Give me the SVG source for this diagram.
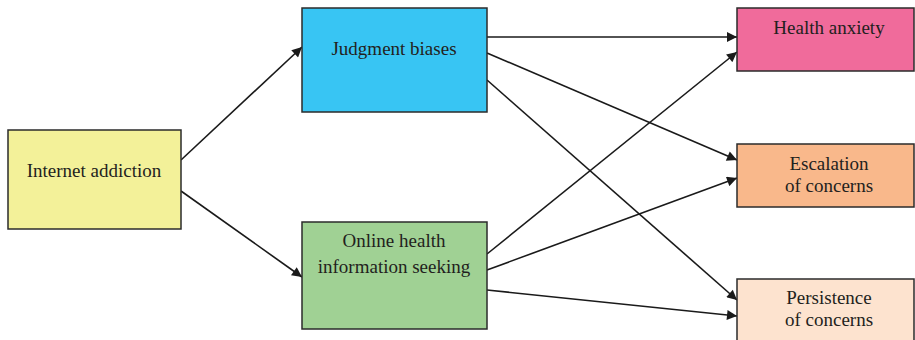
<svg xmlns="http://www.w3.org/2000/svg" width="915" height="340" viewBox="0 0 915 340">
<style>
.box{stroke:#2b2b2b;stroke-width:1.5}
.t{font-family:"Liberation Serif","Times New Roman",serif;font-size:19px;fill:#231f20;text-anchor:middle}
.c{stroke:#1a1a1a;stroke-width:1.6;fill:none;marker-end:url(#ah)}
</style>
<defs>
<marker id="ah" viewBox="0 0 10 10" refX="10" refY="5" markerWidth="11" markerHeight="10" markerUnits="userSpaceOnUse" orient="auto">
<path d="M0,0 L10,5 L0,10 Z" fill="#1a1a1a"/>
</marker>
</defs>
<rect width="915" height="340" fill="#fff"/>
<g id="connectors">
<line class="c" x1="181" y1="160" x2="302" y2="47"/>
<line class="c" x1="181" y1="191" x2="302" y2="277"/>
<line class="c" x1="487" y1="37" x2="737" y2="37"/>
<line class="c" x1="487" y1="53" x2="737" y2="160"/>
<line class="c" x1="487" y1="80" x2="737" y2="300"/>
<line class="c" x1="487" y1="254" x2="737" y2="52"/>
<line class="c" x1="487" y1="270" x2="737" y2="178"/>
<line class="c" x1="487" y1="290" x2="737" y2="316"/>
</g>
<g id="internet-addiction">
<rect class="box" x="8" y="130" width="173" height="99" fill="#f3f199"/>
<text class="t" x="94" y="177">Internet addiction</text>
</g>
<g id="judgment-biases">
<rect class="box" x="302" y="8" width="185" height="104" fill="#38c5f3"/>
<text class="t" x="394" y="55">Judgment biases</text>
</g>
<g id="online-health">
<rect class="box" x="302" y="222" width="185" height="107" fill="#a0d194"/>
<text class="t" x="394" y="247">Online health</text>
<text class="t" x="394" y="273">information seeking</text>
</g>
<g id="health-anxiety">
<rect class="box" x="737" y="8" width="177" height="63" fill="#f06b9b"/>
<text class="t" x="829" y="34">Health anxiety</text>
</g>
<g id="escalation">
<rect class="box" x="737" y="144" width="177" height="63" fill="#f9b88b"/>
<text class="t" x="829" y="170">Escalation</text>
<text class="t" x="829" y="192">of concerns</text>
</g>
<g id="persistence">
<rect class="box" x="737" y="279" width="177" height="70" fill="#fde3cf"/>
<text class="t" x="829" y="304">Persistence</text>
<text class="t" x="829" y="326">of concerns</text>
</g>
</svg>
